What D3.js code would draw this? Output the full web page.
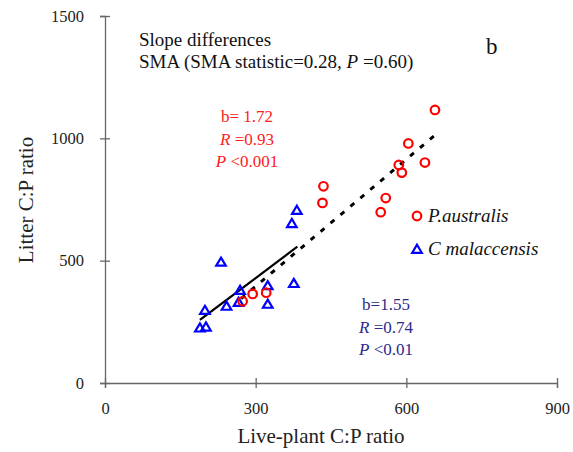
<!DOCTYPE html>
<html lang="en">
<head>
    <meta charset="UTF-8">
    <title>litter vs live-plant C:P</title>
    <script src="https://cdn.jsdelivr.net/npm/d3@7"></script>
    <style>
        body{
            margin: 0;
            background: #ffffff;
        }
        text{
            font-family: "Liberation Serif", "Times New Roman", serif;
        }
    </style>
</head>
<body>
<svg width="573" height="452" id="chart"></svg>
<script>
    // P. australis (red circles)
    let pa_x = [657, 604, 637, 585, 591, 435, 433, 559, 549, 274, 294, 321]
    let pa_y = [1116, 979, 901, 891, 860, 804, 736, 756, 698, 334, 364, 369]
    // C. malaccensis (blue triangles)
    let cm_x = [382, 372, 231, 376, 324, 324, 269, 266, 242, 199, 189, 201]
    let cm_y = [707, 653, 495, 408, 399, 323, 380, 331, 315, 298, 226, 230]
    // SMA fit lines (end points)
    let pa_line_x = [271, 657]
    let pa_line_y = [345, 1013]
    let cm_line_x = [189, 383]
    let cm_line_y = [258, 557]

    let x_ticks = [0, 300, 600, 900]
    let y_ticks = [0, 500, 1000, 1500]

    let svg = d3.select("#chart")
    let x = d3.scaleLinear().domain([0, 900]).range([105, 557])
    let y = d3.scaleLinear().domain([0, 1500]).range([383, 16])

    let axis_color = "#666"

    // axes
    let gx = svg.append("g")
        .attr("transform", "translate(0," + y(0) + ")")
        .call(d3.axisBottom(x).tickValues(x_ticks).tickFormat(d3.format("d"))
            .tickSizeOuter(0).tickSize(5).tickPadding(14))
    let gy = svg.append("g")
        .attr("transform", "translate(" + x(0) + ",0)")
        .call(d3.axisLeft(y).tickValues(y_ticks).tickFormat(d3.format("d"))
            .tickSizeOuter(0).tickSize(5).tickPadding(16))
    gx.selectAll(".tick line").attr("y1", -5).attr("y2", 5)
    gy.selectAll(".tick line").attr("x1", -5).attr("x2", 5)
    svg.selectAll(".domain, .tick line")
        .attr("stroke", axis_color)
        .attr("stroke-width", 1.3)
    svg.selectAll(".tick text")
        .style("font-family", "'Liberation Serif', serif")
        .attr("font-size", 16.5)
        .attr("fill", "#222")

    svg.append("text")
        .attr("x", (x(0) + x(900)) / 2 - 10)
        .attr("y", 443)
        .attr("text-anchor", "middle")
        .attr("font-size", 21)
        .attr("fill", "#222")
        .text("Live-plant C:P ratio")
    svg.append("text")
        .attr("transform", "translate(33," + 200 + ") rotate(-90)")
        .attr("text-anchor", "middle")
        .attr("font-size", 21)
        .attr("fill", "#222")
        .text("Litter C:P ratio")

    // fit lines
    let line = d3.line().x(d => x(d[0])).y(d => y(d[1]))
    svg.append("path")
        .datum(d3.zip(pa_line_x, pa_line_y))
        .attr("d", line)
        .attr("fill", "none")
        .attr("stroke", "#000")
        .attr("stroke-width", 3)
        .attr("stroke-dasharray", "5,8")
    svg.append("path")
        .datum(d3.zip(cm_line_x, cm_line_y))
        .attr("d", line)
        .attr("fill", "none")
        .attr("stroke", "#000")
        .attr("stroke-width", 2.2)

    // points
    let tri = "M0,-4.3L4.8,3.8L-4.8,3.8Z"
    svg.append("g").selectAll("path")
        .data(d3.zip(cm_x, cm_y))
        .join("path")
        .attr("transform", d => "translate(" + x(d[0]) + "," + y(d[1]) + ")")
        .attr("d", tri)
        .attr("fill", "none")
        .attr("stroke", "#0000ff")
        .attr("stroke-width", 2.2)
    svg.append("g").selectAll("circle")
        .data(d3.zip(pa_x, pa_y))
        .join("circle")
        .attr("cx", d => x(d[0]))
        .attr("cy", d => y(d[1]))
        .attr("r", 4.3)
        .attr("fill", "none")
        .attr("stroke", "#ff0000")
        .attr("stroke-width", 2.2)

    // legend
    svg.append("circle")
        .attr("cx", 417).attr("cy", 216).attr("r", 4.3)
        .attr("fill", "none").attr("stroke", "#ff0000").attr("stroke-width", 2.2)
    svg.append("path")
        .attr("transform", "translate(417,249)")
        .attr("d", tri)
        .attr("fill", "none").attr("stroke", "#0000ff").attr("stroke-width", 2.2)
    svg.append("text")
        .attr("x", 428).attr("y", 222)
        .attr("font-size", 19).attr("font-style", "italic").attr("fill", "#111")
        .text("P.australis")
    svg.append("text")
        .attr("x", 428).attr("y", 255)
        .attr("font-size", 19).attr("font-style", "italic").attr("fill", "#111")
        .text("C malaccensis")

    // header text
    svg.append("text")
        .attr("x", 139).attr("y", 46)
        .attr("font-size", 19).attr("fill", "#111")
        .text("Slope differences")
    let sma = svg.append("text")
        .attr("x", 139).attr("y", 68)
        .attr("font-size", 19).attr("fill", "#111")
    sma.append("tspan").text("SMA (SMA statistic=0.28, ")
    sma.append("tspan").attr("font-style", "italic").text("P")
    sma.append("tspan").text(" =0.60)")
    svg.append("text")
        .attr("x", 486).attr("y", 54)
        .attr("font-size", 23).attr("fill", "#111")
        .text("b")

    // statistics annotations
    function stats(cx, y0, color, lines) {
        lines.forEach(function (l, i) {
            let t = svg.append("text")
                .attr("x", cx).attr("y", y0 + i * 22.5)
                .attr("text-anchor", "middle")
                .attr("font-size", 17)
                .attr("fill", color)
            t.append("tspan").attr("font-style", "italic").text(l[0])
            t.append("tspan").text(l[1])
        })
    }
    stats(247, 122, "#ff2020", [["", "b= 1.72"], ["R", " =0.93"], ["P", " <0.001"]])
    stats(386, 310, "#2b2b8c", [["", "b=1.55"], ["R", " =0.74"], ["P", " <0.01"]])
</script>
</body>
</html>
